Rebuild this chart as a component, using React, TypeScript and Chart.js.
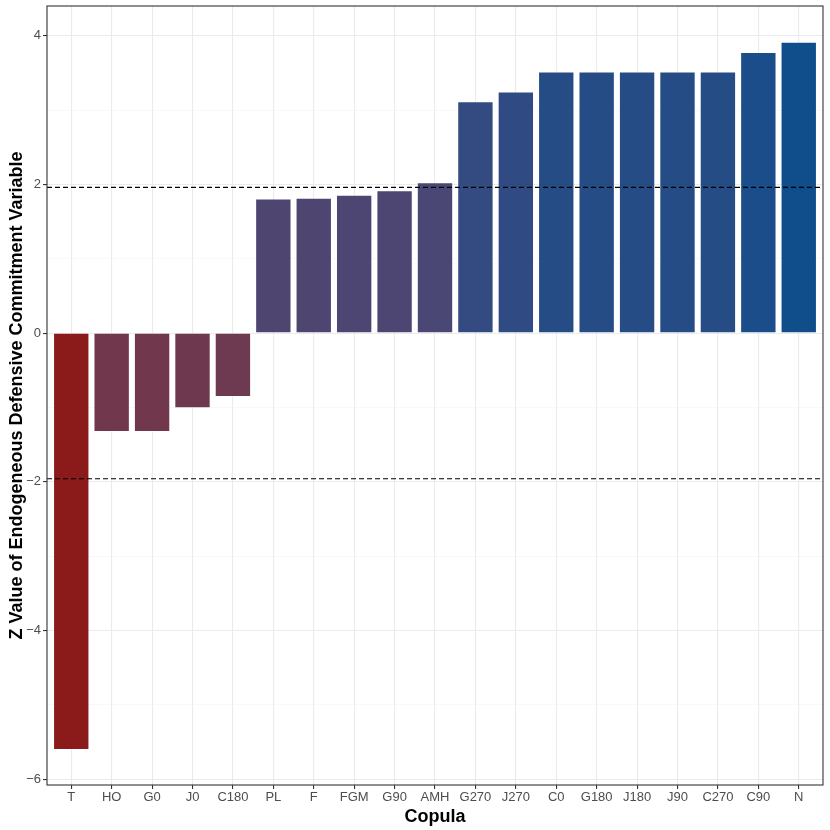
import React, { useEffect, useRef } from "react";
import { Chart, registerables } from "chart.js";

Chart.register(...registerables);

const copulas = ["T", "HO", "G0", "J0", "C180", "PL", "F", "FGM", "G90", "AMH", "G270", "J270", "C0", "G180", "J180", "J90", "C270", "C90", "N"];
const zValues = [-5.61, -1.33, -1.33, -1.01, -0.86, 1.81, 1.82, 1.86, 1.92, 2.03, 3.12, 3.25, 3.52, 3.52, 3.52, 3.52, 3.52, 3.78, 3.92];
const criticalValues = [1.96, -1.96];
const yTickValues = [-6, -4, -2, 0, 2, 4];
const lowColor = "#8B1A1A";
const highColor = "#104E8B";

function hexToRgb(h: string) {
  return [1, 3, 5].map((i) => parseInt(h.slice(i, i + 2), 16));
}
function toLin(c: number) {
  c /= 255;
  return c <= 0.04045 ? c / 12.92 : Math.pow((c + 0.055) / 1.055, 2.4);
}
function fromLin(c: number) {
  const v = c <= 0.0031308 ? 12.92 * c : 1.055 * Math.pow(c, 1 / 2.4) - 0.055;
  return Math.max(0, Math.min(255, Math.round(v * 255)));
}
const Xn = 0.95047, Yn = 1.0, Zn = 1.08883;
function f(t: number) {
  return t > 216 / 24389 ? Math.cbrt(t) : (24389 / 27 * t + 16) / 116;
}
function finv(t: number) {
  return t * t * t > 216 / 24389 ? t * t * t : (116 * t - 16) / (24389 / 27);
}
function rgbToLab(rgb: number[]) {
  const [r, g, b] = rgb.map(toLin);
  const x = 0.4124564 * r + 0.3575761 * g + 0.1804375 * b;
  const y = 0.2126729 * r + 0.7151522 * g + 0.072175 * b;
  const z = 0.0193339 * r + 0.119192 * g + 0.9503041 * b;
  const fx = f(x / Xn), fy = f(y / Yn), fz = f(z / Zn);
  return [116 * fy - 16, 500 * (fx - fy), 200 * (fy - fz)];
}
function labToRgb(lab: number[]) {
  const fy = (lab[0] + 16) / 116;
  const fx = fy + lab[1] / 500;
  const fz = fy - lab[2] / 200;
  const x = finv(fx) * Xn, y = finv(fy) * Yn, z = finv(fz) * Zn;
  const r = 3.2404542 * x - 1.5371385 * y - 0.4985314 * z;
  const g = -0.969266 * x + 1.8760108 * y + 0.041556 * z;
  const b = 0.0556434 * x - 0.2040259 * y + 1.0572252 * z;
  return [fromLin(r), fromLin(g), fromLin(b)];
}
function gradientColor(v: number, lo: number, hi: number) {
  const t = (v - lo) / (hi - lo);
  const a = rgbToLab(hexToRgb(lowColor));
  const b = rgbToLab(hexToRgb(highColor));
  const lab = a.map((x, i) => x + (b[i] - x) * t);
  const [r, g, bb] = labToRgb(lab);
  return `rgb(${r},${g},${bb})`;
}

export default function App() {
  const ref = useRef<HTMLCanvasElement>(null);
  useEffect(() => {
    const lo = Math.min(...zValues), hi = Math.max(...zValues);
    const colors = zValues.map((v) => gradientColor(v, lo, hi));
    const overlay = {
      id: "overlay",
      afterDatasetsDraw(chart: any) {
        const { ctx, chartArea, scales } = chart;
        ctx.save();
        ctx.strokeStyle = "#000000";
        ctx.lineWidth = 1.1;
        ctx.setLineDash([5, 3]);
        criticalValues.forEach((c) => {
          const y = scales.y.getPixelForValue(c);
          ctx.beginPath();
          ctx.moveTo(chartArea.left, y);
          ctx.lineTo(chartArea.right, y);
          ctx.stroke();
        });
        ctx.setLineDash([]);
        ctx.strokeStyle = "#333333";
        ctx.lineWidth = 1.1;
        ctx.strokeRect(chartArea.left, chartArea.top, chartArea.right - chartArea.left, chartArea.bottom - chartArea.top);
        ctx.restore();
      },
    };
    const chart = new Chart(ref.current!, {
      type: "bar",
      data: {
        datasets: [
          {
            data: zValues.map((v, i) => ({ x: i, y: v })),
            backgroundColor: colors,
            borderColor: "rgba(255,255,255,0.45)",
            borderWidth: 1,
            barPercentage: 0.9,
            categoryPercentage: 1,
          },
        ],
      },
      options: {
        animation: false,
        responsive: false,
        maintainAspectRatio: false,
        layout: { padding: { left: 0, top: 6, right: 7, bottom: 0 } },
        plugins: { legend: { display: false }, tooltip: { enabled: false } },
        scales: {
          x: {
            type: "linear",
            min: -0.6,
            max: 18.6,
            offset: false,
            afterFit: (s: any) => {
              s.height = 45;
              s.paddingLeft = 0;
              s.paddingRight = 0;
            },
            afterBuildTicks: (s: any) => {
              s.ticks = copulas.map((_, i) => ({ value: i }));
            },
            ticks: {
              autoSkip: false,
              maxRotation: 0,
              padding: 1,
              color: "#4D4D4D",
              font: { family: "Liberation Sans", size: 13 },
              callback: (v: any) => copulas[v] ?? "",
            },
            grid: { offset: false, color: "#EBEBEB", lineWidth: 1.1, tickColor: "#333333", tickLength: 4, drawTicks: true },
            border: { display: false },
            title: {
              display: true,
              text: "Copula",
              color: "#000000",
              padding: { top: 0, bottom: 2 },
              font: { family: "Liberation Sans", size: 18, weight: "bold" },
            },
          },
          y: {
            type: "linear",
            min: -6.08,
            max: 4.4,
            afterFit: (s: any) => {
              s.width = 47;
              s.paddingTop = 0;
              s.paddingBottom = 0;
            },
            afterBuildTicks: (s: any) => {
              const t: any[] = [];
              for (let v = -6; v <= 4; v++) t.push({ value: v });
              s.ticks = t;
            },
            ticks: {
              padding: 2,
              color: "#4D4D4D",
              font: { family: "Liberation Sans", size: 13 },
              callback: (v: any) => (yTickValues.includes(v) ? (v < 0 ? "\u2212" + Math.abs(v) : String(v)) : ""),
            },
            grid: {
              color: (c: any) => (c.tick && Math.abs(c.tick.value) % 2 === 1 ? "#F4F4F4" : "#EBEBEB"),
              lineWidth: (c: any) => (c.tick && Math.abs(c.tick.value) % 2 === 1 ? 0.6 : 1.1),
              tickColor: (c: any) => (c.tick && Math.abs(c.tick.value) % 2 === 1 ? "rgba(0,0,0,0)" : "#333333"),
              tickLength: 4,
            },
            border: { display: false },
            title: {
              display: true,
              text: "Z Value of Endogeneous Defensive Commitment Variable",
              color: "#000000",
              padding: { top: 6, bottom: 0 },
              font: { family: "Liberation Sans", size: 18, weight: "bold" },
            },
          },
        },
      },
      plugins: [overlay],
    });
    return () => chart.destroy();
  }, []);
  return (
    <div style={{ position: "fixed", left: 0, top: 0, width: 830, height: 830, background: "#ffffff" }}>
      <canvas ref={ref} width={830} height={830} style={{ width: 830, height: 830 }} />
    </div>
  );
}
